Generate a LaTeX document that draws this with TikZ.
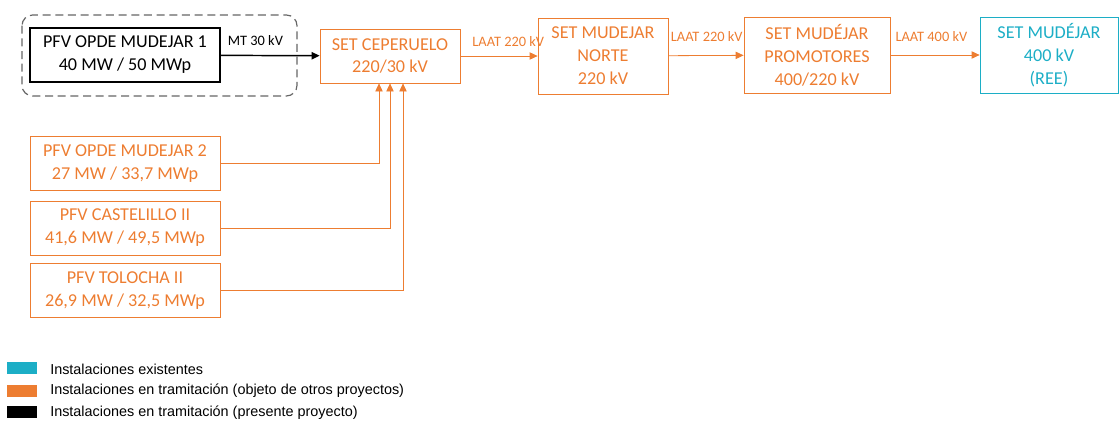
\documentclass[tikz,border=0pt]{standalone}
\usepackage{fontspec}
\setmainfont{Carlito}
\newfontfamily\legendfont{Liberation Sans}
\usetikzlibrary{arrows.meta}
\definecolor{tramite}{HTML}{ED7D31}
\definecolor{existe}{HTML}{1CAEC6}
\tikzset{
    planta/.style = {draw, line width = 0.6pt, align = center, minimum width = 190 * 0.75pt, minimum height = 54 * 0.75pt, inner sep = 0pt, font = \fontsize{13.6}{17.2}\selectfont},
    subest/.style = {planta, minimum height = 76 * 0.75pt},
    linea/.style = {font = \fontsize{10.8}{12}\selectfont, inner sep = 0pt},
    swatch/.style = {minimum width = 30 * 0.75pt, minimum height = 12 * 0.75pt, inner sep = 0pt},
    tip/.style = {-{Triangle[length = 6pt, width = 5.5pt]}}
}
\begin{document}
\begin{tikzpicture}[x = 0.75pt, y = -0.75pt]
            \useasboundingbox (0, 0) rectangle (1119, 421);

            \draw[gray!80!black, dash pattern = on 6pt off 3.5pt, line width = 0.9pt, rounded corners = 8pt]
                (22, 15) rectangle (297, 96)
            ;

            \draw
                (125, 55) node (opde1) [planta, line width = 1.1pt] {PFV OPDE MUDEJAR 1\\40 MW / 50 MWp}
                (390, 56) node (ceperuelo) [planta, minimum width = 140 * 0.75pt, tramite] {SET CEPERUELO\\220/30 kV}
                (603, 56) node (norte) [subest, minimum width = 130 * 0.75pt, tramite] {SET MUDEJAR\\NORTE\\220 kV}
                (817, 55) node (promotores) [subest, minimum width = 146 * 0.75pt, tramite] {SET MUDÉJAR\\PROMOTORES\\400/220 kV}
                (1049, 55) node (ree) [subest, minimum width = 138 * 0.75pt, existe] {SET MUDÉJAR\\400 kV\\(REE)}

                (125, 163.5) node (opde2) [planta, tramite] {PFV OPDE MUDEJAR 2\\27 MW / 33,7 MWp}
                (125, 228) node (castelillo) [planta, tramite] {PFV CASTELILLO II\\41,6 MW / 49,5 MWp}
                (125, 290.5) node (tolocha) [planta, tramite] {PFV TOLOCHA II\\26,9 MW / 32,5 MWp}
            ;

            \draw[tip, line width = 1.1pt]
                (opde1) -- node [linea, above = 7pt, pos = 0.35] {MT 30 kV} (ceperuelo)
            ;
            \draw[tip, tramite, line width = 0.6pt]
                (ceperuelo) -- node [linea, above = 7pt, pos = 0.62] {LAAT 220 kV} (norte)
            ;
            \draw[tip, tramite, line width = 0.6pt]
                (norte) -- node [linea, above = 10pt, pos = 0.51] {LAAT 220 kV} (promotores)
            ;
            \draw[tip, tramite, line width = 0.6pt]
                (promotores) -- node [linea, above = 10pt, pos = 0.46] {LAAT 400 kV} (ree)
            ;

            \draw[tip, tramite, line width = 0.6pt]
                (opde2) -| ([xshift = -8.25pt] ceperuelo.south)
            ;
            \draw[tip, tramite, line width = 0.6pt]
                (castelillo) -| (ceperuelo.south)
            ;
            \draw[tip, tramite, line width = 0.6pt]
                (tolocha) -| ([xshift = 9.75pt] ceperuelo.south)
            ;

            \draw
                (22, 368) node (leyexiste) [swatch, fill = existe] {}
                (22, 390.5) node (leytramite) [swatch, fill = tramite] {}
                (22, 412) node (leypresente) [swatch, fill = black] {}
            ;
            \begin{scope}[every node/.style = {anchor = west, inner sep = 0pt, font = \legendfont\fontsize{10.8}{12}\selectfont}]
                \node (txtexiste) at (50, 369) {Instalaciones existentes};
                \node (txttramite) at (50, 391) {Instalaciones en tramitación (objeto de otros proyectos)};
                \node (txtpresente) at (50, 412.5) {Instalaciones en tramitación (presente proyecto)};
            \end{scope}
        \end{tikzpicture}
\end{document}
